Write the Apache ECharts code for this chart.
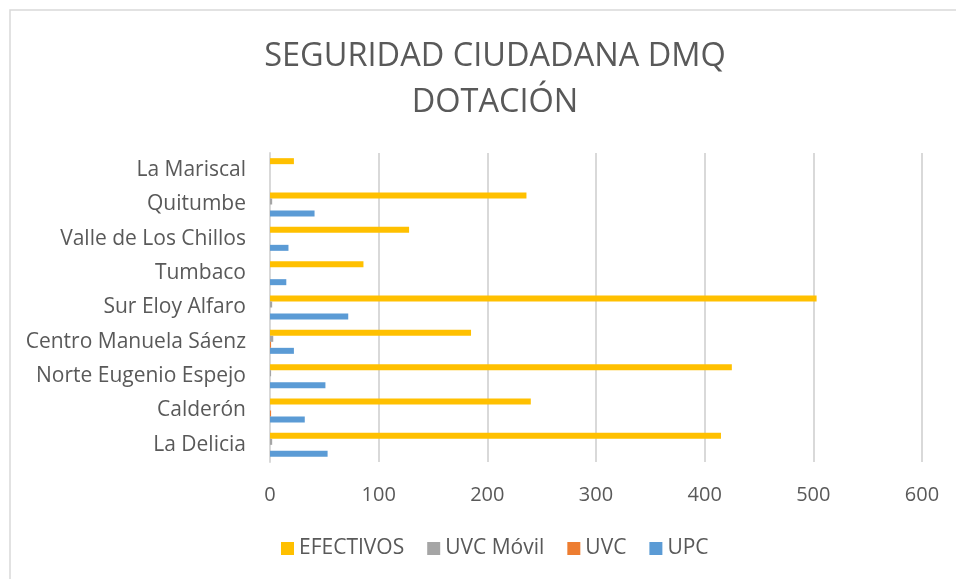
<!DOCTYPE html>
<html>
<head>
<meta charset="utf-8">
<script src="https://cdn.jsdelivr.net/npm/echarts@6/dist/echarts.min.js"></script>
<style>
html,body{margin:0;padding:0;background:#fff;}
#c{width:956px;height:579px;}
</style>
</head>
<body>
<div id="c"></div>
<script>
var categories = ['La Delicia','Calderón','Norte Eugenio Espejo','Centro Manuela Sáenz','Sur Eloy Alfaro','Tumbaco','Valle de Los Chillos','Quitumbe','La Mariscal'];
var upc = [53, 32, 51, 22, 72, 15, 17, 41, 0];
var uvc = [0, 1, 0, 1, 0, 0, 0, 0, 0];
var uvcMovil = [2, 0, 1, 3, 2, 0, 0, 2, 0];
var efectivos = [415, 240, 425, 185, 503, 86, 128, 236, 22];
var xTicks = [0, 100, 200, 300, 400, 500, 600];
var legendOrder = ['EFECTIVOS', 'UVC Móvil', 'UVC', 'UPC'];

var FONT = '"Open Sans", sans-serif';
var chart = echarts.init(document.getElementById('c'), null, {renderer: 'canvas'});
function s(name, data, color) {
  return {name: name, type: 'bar', data: data, barWidth: 6, barGap: '0%',
    itemStyle: {color: color}, animation: false};
}
chart.setOption({
  animation: false,
  textStyle: {fontFamily: FONT},
  graphic: [{type: 'rect', shape: {x: 10, y: 10, width: 960, height: 590},
    style: {fill: null, stroke: '#d9d9d9', lineWidth: 1.5}, silent: true}],
  title: {
    text: 'SEGURIDAD CIUDADANA DMQ\nDOTACIÓN',
    left: 490, textAlign: 'center', top: 29,
    textStyle: {fontFamily: FONT, fontSize: 32.5, fontWeight: 'normal', color: '#595959', lineHeight: 46}
  },
  legend: {
    data: legendOrder, bottom: 15, left: 276,
    itemWidth: 13, itemHeight: 13, itemGap: 23, icon: 'rect',
    textStyle: {fontFamily: FONT, fontSize: 21, color: '#595959'}
  },
  grid: {left: 270, right: 34, top: 153, bottom: 117, containLabel: false},
  xAxis: {
    type: 'value', min: xTicks[0], max: xTicks[xTicks.length-1], interval: 100,
    axisLine: {show: false}, axisTick: {show: false},
    splitLine: {lineStyle: {color: '#d9d9d9', width: 2}},
    axisLabel: {fontFamily: FONT, fontSize: 20, color: '#595959', margin: 23}
  },
  yAxis: {
    type: 'category', data: categories,
    axisLine: {lineStyle: {color: '#d9d9d9', width: 2}}, axisTick: {show: false},
    axisLabel: {fontFamily: FONT, fontSize: 21, color: '#595959', margin: 24}
  },
  series: [
    s('EFECTIVOS', efectivos, '#ffc000'),
    s('UVC Móvil', uvcMovil, '#a5a5a5'),
    s('UVC', uvc, '#ed7d31'),
    s('UPC', upc, '#5b9bd5')
  ]
});
</script>
</body>
</html>
